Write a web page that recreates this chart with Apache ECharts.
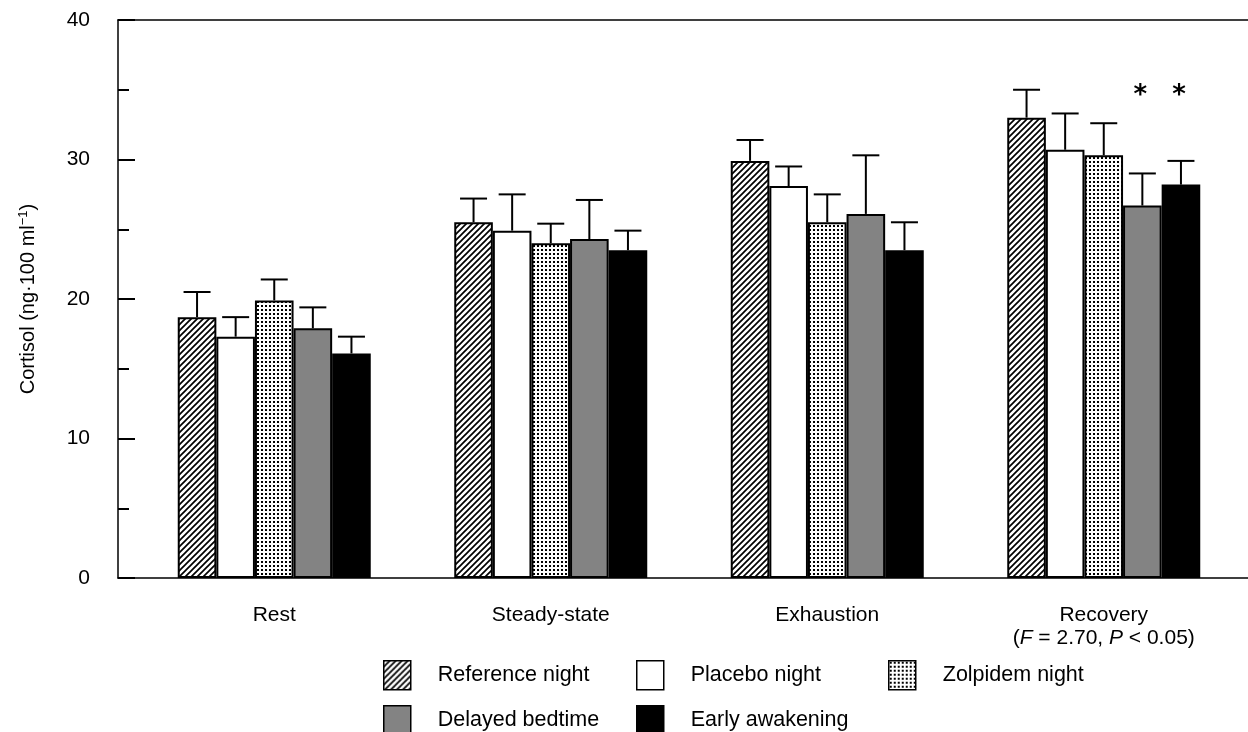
<!DOCTYPE html>
<html>
<head>
<meta charset="utf-8">
<script src="https://cdn.jsdelivr.net/npm/echarts@6/dist/echarts.min.js"></script>
<style>
  html, body { margin: 0; padding: 0; background: #fff; }
  #chart { width: 1248px; height: 732px; }
</style>
</head>
<body>
<div id="chart"></div>
<script>
// data
const categories = ["Rest", "Steady-state", "Exhaustion", "Recovery"];
const seriesNames = ["Reference night", "Placebo night", "Zolpidem night", "Delayed bedtime", "Early awakening"];

const referenceMean = [18.7, 25.5, 29.9, 33.0];
const placeboMean = [17.3, 24.9, 28.1, 30.7];
const zolpidemMean = [19.9, 24.0, 25.5, 30.3];
const delayedMean = [17.9, 24.3, 26.1, 26.7];
const earlyMean = [16.1, 23.5, 23.5, 28.2];

const referenceErr = [1.8, 1.7, 1.5, 2.0];
const placeboErr = [1.4, 2.6, 1.4, 2.6];
const zolpidemErr = [1.5, 1.4, 2.0, 2.3];
const delayedErr = [1.5, 2.8, 4.2, 2.3];
const earlyErr = [1.2, 1.4, 2.0, 1.7];

// significant differences (*) : [series index, category index]
const sigMarks = [[3, 3], [4, 3]];

const yTicks = [0, 10, 20, 30, 40];

const means = [referenceMean, placeboMean, zolpidemMean, delayedMean, earlyMean];
const errs = [referenceErr, placeboErr, zolpidemErr, delayedErr, earlyErr];

const FONT = "'Liberation Sans', Arial, Helvetica, sans-serif";
const BAR_W = 38.6;

function makeHatch() {
  const c = document.createElement("canvas");
  c.width = 6; c.height = 6;
  const g = c.getContext("2d");
  g.fillStyle = "#fff";
  g.fillRect(0, 0, 6, 6);
  g.strokeStyle = "#000";
  g.lineWidth = 1.7;
  g.beginPath();
  g.moveTo(-1, 7); g.lineTo(7, -1);
  g.moveTo(-1, 1); g.lineTo(1, -1);
  g.moveTo(5, 7); g.lineTo(7, 5);
  g.stroke();
  return c;
}

function makeDots() {
  const c = document.createElement("canvas");
  c.width = 4; c.height = 4;
  const g = c.getContext("2d");
  g.fillStyle = "#fff";
  g.fillRect(0, 0, 4, 4);
  g.fillStyle = "#000";
  g.fillRect(1, 1, 2, 2);
  return c;
}

const fills = [
  { image: makeHatch(), repeat: "repeat" },
  "#ffffff",
  { image: makeDots(), repeat: "repeat" },
  "#838383",
  "#000000",
];

const chart = echarts.init(document.getElementById("chart"));

const barSeries = seriesNames.map((name, i) => ({
  name: name,
  type: "bar",
  xAxisIndex: 2,
  yAxisIndex: 1,
  barWidth: BAR_W,
  barGap: "0%",
  data: means[i],
  itemStyle: { color: fills[i], borderColor: "#000", borderWidth: 2 },
  silent: true,
  animation: false,
}));

const errSeries = seriesNames.map((name, i) => ({
  type: "custom",
  xAxisIndex: 2,
  yAxisIndex: 1,
  z: 5,
  silent: true,
  animation: false,
  data: means[i].map((m, k) => [k, m, errs[i][k]]),
  renderItem: function (params, api) {
    const k = api.value(0);
    const base = api.coord([k, api.value(1)]);
    const top = api.coord([k, api.value(1) + api.value(2)]);
    const x = base[0] + (i - 2) * BAR_W;
    const half = 13.5;
    const children = [
      { type: "line", shape: { x1: x, y1: base[1], x2: x, y2: top[1] }, style: { stroke: "#000", lineWidth: 2 } },
      { type: "line", shape: { x1: x - half, y1: top[1], x2: x + half, y2: top[1] }, style: { stroke: "#000", lineWidth: 2 } },
    ];
    sigMarks.forEach((s) => {
      if (s[0] === i && s[1] === k) {
        const p = api.coord([k, 34.9]);
        children.push({
          type: "text",
          style: { x: x - 2, y: p[1] + 5, text: "*", fill: "#000", font: "bold 26px 'DejaVu Sans'", align: "center", verticalAlign: "middle" },
        });
      }
    });
    return { type: "group", children: children };
  },
}));

const legends = seriesNames.map((name, i) => ({
  data: [name],
  left: [383, 636, 888, 383, 636][i],
  top: i < 3 ? 660 : 705,
  padding: 0,
  icon: "rect",
  itemWidth: 27,
  itemHeight: 29,
  selectedMode: false,
  itemStyle: { borderWidth: 1.5, borderColor: "#000" },
  textStyle: { fontFamily: FONT, fontSize: 21.5, color: "#000", padding: [0, 0, 0, 22] },
}));

chart.setOption({
  animation: false,
  grid: [
    { left: 118, right: 0, top: 20, bottom: 154 },
    { left: 136, right: 6, top: 20, bottom: 154 },
  ],
  legend: legends,
  xAxis: [
    {
      gridIndex: 0, type: "category", data: [""], position: "bottom",
      axisLine: { lineStyle: { color: "#000", width: 1.5 } },
      axisTick: { show: false }, axisLabel: { show: false },
    },
    {
      gridIndex: 0, type: "category", data: [""], position: "top",
      axisLine: { lineStyle: { color: "#000", width: 1.5 } },
      axisTick: { show: false }, axisLabel: { show: false },
    },
    {
      gridIndex: 1, type: "category", data: categories,
      axisLine: { show: false }, axisTick: { show: false },
      axisLabel: {
        interval: 0,
        margin: 26, fontFamily: FONT, fontSize: 21, color: "#000", lineHeight: 23,
        formatter: (v) => v === "Recovery" ? "Recovery\n({i|F} = 2.70, {i|P} < 0.05)" : v,
        rich: { i: { fontFamily: FONT, fontSize: 21, fontStyle: "italic", color: "#000", lineHeight: 23 } },
      },
    },
  ],
  yAxis: [
    {
      gridIndex: 0, type: "value", min: yTicks[0], max: yTicks[yTicks.length - 1], interval: 10,
      axisLine: { show: true, lineStyle: { color: "#000", width: 1.5 } },
      axisTick: { show: true, inside: true, length: 17, lineStyle: { color: "#000", width: 2 } },
      minorTick: { show: true, splitNumber: 2, length: 11, lineStyle: { color: "#000", width: 2 } },
      splitLine: { show: false },
      axisLabel: { margin: 28, fontFamily: FONT, fontSize: 21, color: "#000" },
      name: "Cortisol (ng\u00b7100 ml{sup|\u22121})",
      nameLocation: "middle",
      nameGap: 78,
      nameTextStyle: {
        fontFamily: FONT, fontSize: 20, color: "#000",
        rich: { sup: { fontFamily: FONT, fontSize: 13, color: "#000", padding: [0, 0, 10, 0] } },
      },
    },
    { gridIndex: 1, type: "value", min: 0, max: 40, show: false },
  ],
  series: barSeries.concat(errSeries),
});
</script>
</body>
</html>
